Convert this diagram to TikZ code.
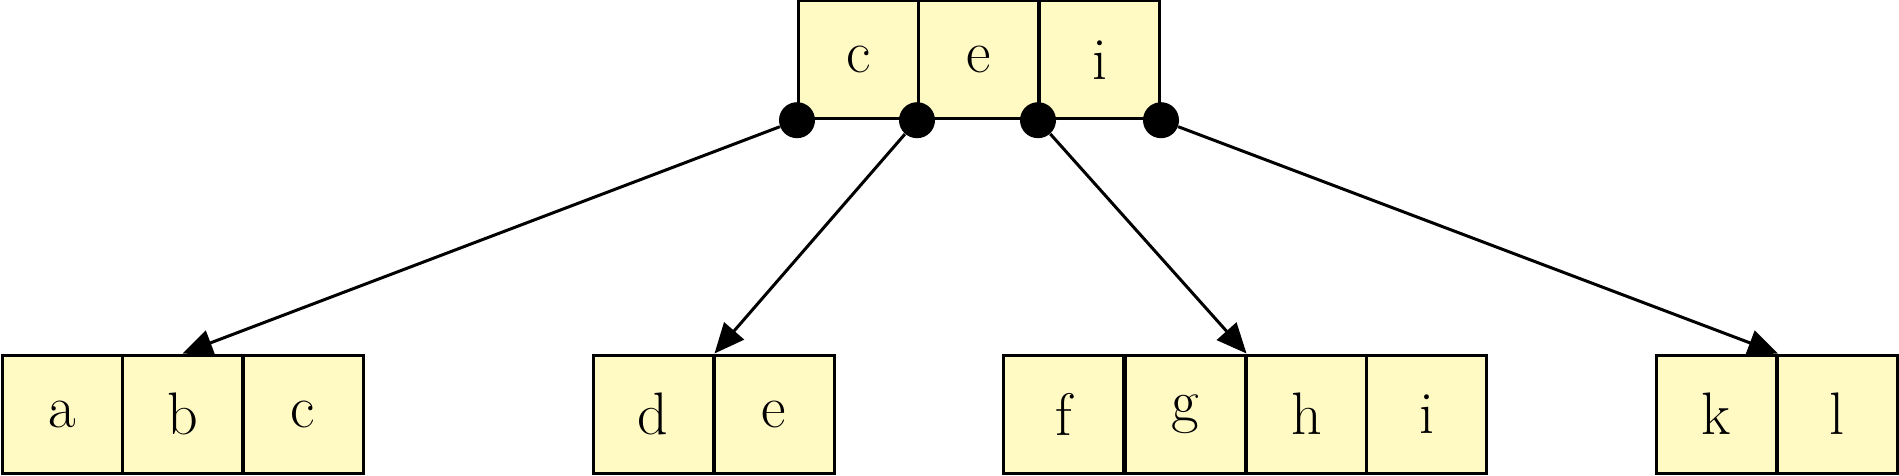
\documentclass[tikz,border=0pt]{standalone}
\usetikzlibrary{arrows.meta}
\definecolor{boxfill}{RGB}{255,249,196}
\begin{document}
\begin{tikzpicture}[x=0.5pt,y=-0.5pt,
  cell/.style={draw=black,fill=boxfill,line width=1.5pt,minimum width=60pt,minimum height=59pt,inner sep=0pt,font=\fontsize{30}{36}\selectfont},
  dot/.style={circle,fill=black,draw=none,minimum size=18pt,inner sep=0pt},
  link/.style={line width=1.5pt,-{Triangle[length=15pt,width=13pt]}}]
\useasboundingbox (0,0) rectangle (1899,476);
% top node
\node[cell] (tc) at (858.5,59.7) {c};
\node[cell] (te) at (978.5,59.7) {e};
\node[cell] (ti) at (1099.5,59.7) {i};
% bottom nodes
\node[cell] (a) at (62,414) {a};
\node[cell] (b) at (182.5,414) {b};
\node[cell] (c) at (303,414) {c};
\node[cell] (d) at (653,414) {d};
\node[cell] (e) at (774,414) {e};
\node[cell] (f) at (1063.5,414) {f};
\node[cell] (g) at (1185,414) {g};
\node[cell] (h) at (1306.5,414) {h};
\node[cell] (i) at (1426.5,414) {i};
\node[cell] (k) at (1716.5,414) {k};
\node[cell] (l) at (1837,414) {l};
% pointers
\node[dot] (p1) at (tc.south west) {};
\node[dot] (p2) at (te.south west) {};
\node[dot] (p3) at (ti.south west) {};
\node[dot] (p4) at (ti.south east) {};
\draw[link] (p1) -- (b.north);
\draw[link] (p2) -- (d.north east);
\draw[link] (p3) -- (g.north east);
\draw[link] (p4) -- (k.north east);
\end{tikzpicture}
\end{document}
